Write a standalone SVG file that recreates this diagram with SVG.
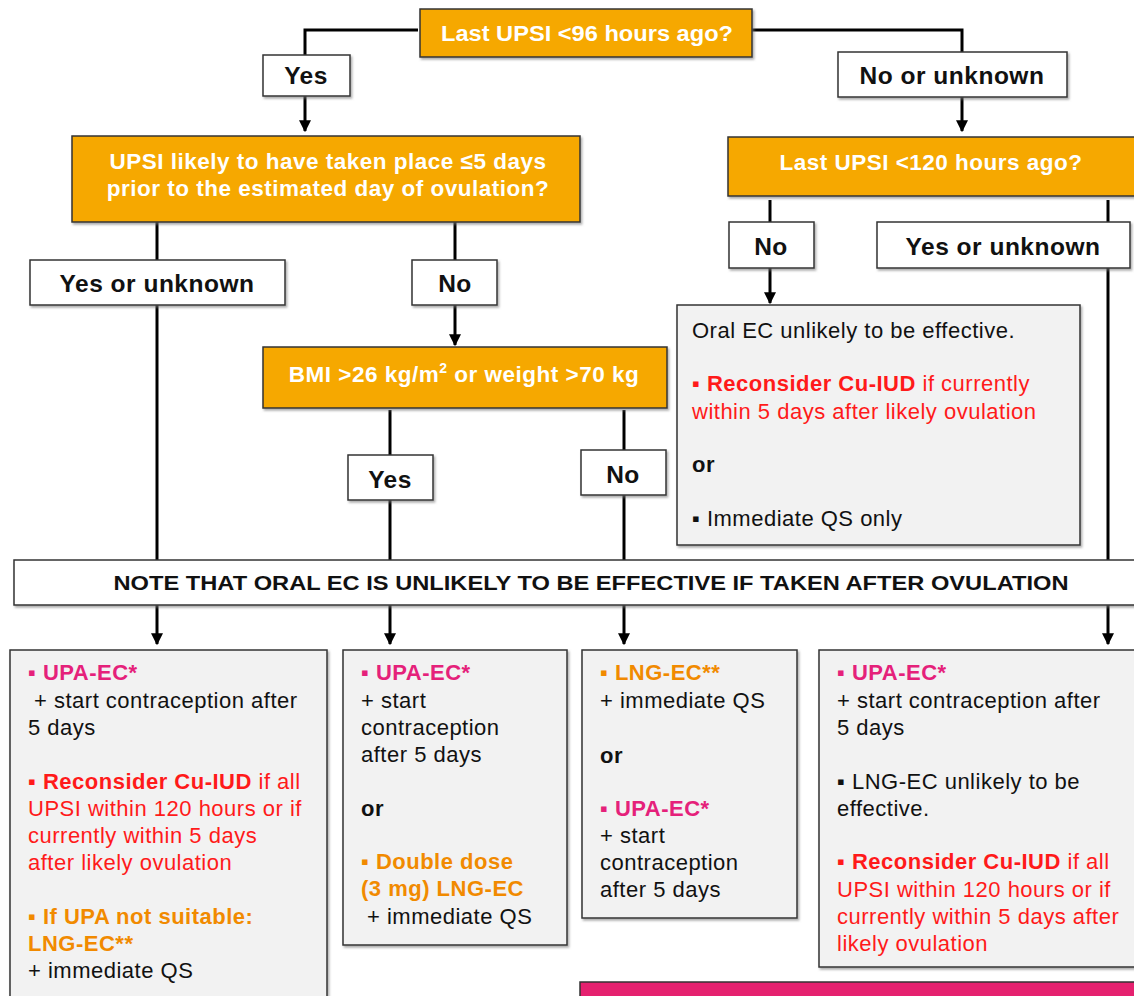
<svg xmlns="http://www.w3.org/2000/svg" width="1134" height="996" viewBox="0 0 1134 996">
<defs>
<marker id="arr" viewBox="0 0 10 10" refX="9" refY="5" markerWidth="4" markerHeight="4" orient="auto" markerUnits="strokeWidth">
<path d="M0,0 L10,5 L0,10 z" fill="#000"/>
</marker>
<filter id="sh" x="-5%" y="-5%" width="110%" height="115%">
<feDropShadow dx="1.5" dy="2" stdDeviation="1" flood-color="#777" flood-opacity="0.6"/>
</filter>
</defs>
<style>
text{font-family:"Liberation Sans",Arial,sans-serif;}
.q{fill:#f6a800;stroke:#333;stroke-width:1.5;filter:url(#sh);}
.lab{fill:#fff;stroke:#333;stroke-width:1.5;filter:url(#sh);}
.res{fill:#f2f2f2;stroke:#333;stroke-width:1.5;filter:url(#sh);}
.qt{fill:#fff;font-weight:bold;font-size:22.5px;letter-spacing:0.5px;text-anchor:middle;}
.lt{fill:#111;font-weight:bold;font-size:24.5px;letter-spacing:0.5px;text-anchor:middle;}
.b{font-size:22px;letter-spacing:0.5px;fill:#111;}
.bold{font-weight:bold;}
.pk{fill:#e5217a;font-weight:bold;}
.rd{fill:#ff1a1a;}
.or{fill:#f18a00;font-weight:bold;}
.con{fill:none;stroke:#000;stroke-width:3;}
</style>

<g id="connectors">
<path class="con" d="M418 30 H305 V55"/>
<path class="con" d="M305 96 V131" marker-end="url(#arr)"/>
<path class="con" d="M752 30 H962 V52"/>
<path class="con" d="M962 97 V131" marker-end="url(#arr)"/>
<path class="con" d="M157 222 V260"/>
<path class="con" d="M157 305 V560"/>
<path class="con" d="M455 222 V260"/>
<path class="con" d="M455 305 V345" marker-end="url(#arr)"/>
<path class="con" d="M390 410 V455"/>
<path class="con" d="M390 500 V560"/>
<path class="con" d="M624 410 V450"/>
<path class="con" d="M624 495 V560"/>
<path class="con" d="M770 200 V222"/>
<path class="con" d="M770 268 V303" marker-end="url(#arr)"/>
<path class="con" d="M1108 200 V222"/>
<path class="con" d="M1108 268 V560"/>
<path class="con" d="M157 605 V644" marker-end="url(#arr)"/>
<path class="con" d="M390 605 V644" marker-end="url(#arr)"/>
<path class="con" d="M624 605 V644" marker-end="url(#arr)"/>
<path class="con" d="M1108 605 V644" marker-end="url(#arr)"/>
</g>

<g id="q1">
<rect class="q" x="420" y="9" width="332" height="48"/>
<text x="587" y="41" fill="#fff" font-weight="bold" font-size="22" text-anchor="middle" textLength="292" lengthAdjust="spacingAndGlyphs">Last UPSI &lt;96 hours ago?</text>
</g>
<g id="yes1">
<rect class="lab" x="263" y="55" width="87" height="41"/>
<text class="lt" x="306" y="84">Yes</text>
</g>
<g id="nounk1">
<rect class="lab" x="838" y="52" width="229" height="45"/>
<text class="lt" x="952" y="84">No or unknown</text>
</g>

<g id="q2">
<rect class="q" x="72" y="136" width="508" height="86"/>
<text class="qt" x="328" y="169">UPSI likely to have taken place ≤5 days</text>
<text class="qt" x="328" y="196">prior to the estimated day of ovulation?</text>
</g>
<g id="q3">
<rect class="q" x="728" y="137" width="410" height="59"/>
<text class="qt" x="931" y="170" font-size="23.5">Last UPSI &lt;120 hours ago?</text>
</g>

<g id="yesunk2">
<rect class="lab" x="30" y="260" width="255" height="45"/>
<text class="lt" x="157" y="292">Yes or unknown</text>
</g>
<g id="no2">
<rect class="lab" x="412" y="260" width="85" height="45"/>
<text class="lt" x="455" y="292">No</text>
</g>
<g id="no3">
<rect class="lab" x="729" y="222" width="85" height="46"/>
<text class="lt" x="771" y="255">No</text>
</g>
<g id="yesunk3">
<rect class="lab" x="877" y="222" width="253" height="46"/>
<text class="lt" x="1003" y="255">Yes or unknown</text>
</g>

<g id="bmi">
<rect class="q" x="263" y="347" width="404" height="61"/>
<text class="qt" x="464" y="382">BMI &gt;26 kg/m<tspan font-size="14" dy="-9">2</tspan><tspan dy="9"> or weight &gt;70 kg</tspan></text>
</g>
<g id="yes4">
<rect class="lab" x="348" y="455" width="85" height="45"/>
<text class="lt" x="390" y="488">Yes</text>
</g>
<g id="no4">
<rect class="lab" x="581" y="450" width="85" height="45"/>
<text class="lt" x="623" y="483">No</text>
</g>

<g id="oralec">
<rect class="res" x="677" y="305" width="403" height="240"/>
<text class="b" x="692" y="338">Oral EC unlikely to be effective.</text>
<text class="b rd" x="692" y="391"><tspan class="bold">▪ Reconsider Cu-IUD</tspan> if currently</text>
<text class="b rd" x="692" y="419">within 5 days after likely ovulation</text>
<text class="b bold" x="692" y="472">or</text>
<text class="b" x="692" y="526">▪ Immediate QS only</text>
</g>

<g id="note">
<rect class="lab" x="14" y="560" width="1130" height="45"/>
<text x="591" y="590" font-size="21" font-weight="bold" fill="#111" text-anchor="middle" textLength="955" lengthAdjust="spacingAndGlyphs">NOTE THAT ORAL EC IS UNLIKELY TO BE EFFECTIVE IF TAKEN AFTER OVULATION</text>
</g>

<g id="resA">
<rect class="res" x="10" y="650" width="317" height="360"/>
<text class="b pk" x="28" y="680">▪ UPA-EC*</text>
<text class="b" x="34" y="708">+ start contraception after</text>
<text class="b" x="28" y="735">5 days</text>
<text class="b rd" x="28" y="789"><tspan class="bold">▪ Reconsider Cu-IUD</tspan> if all</text>
<text class="b rd" x="28" y="816">UPSI within 120 hours or if</text>
<text class="b rd" x="28" y="843">currently within 5 days</text>
<text class="b rd" x="28" y="870">after likely ovulation</text>
<text class="b or" x="28" y="924">▪ If UPA not suitable:</text>
<text class="b or" x="28" y="951">LNG-EC**</text>
<text class="b" x="28" y="978">+ immediate QS</text>
</g>

<g id="resB">
<rect class="res" x="343" y="650" width="224" height="295"/>
<text class="b pk" x="361" y="680">▪ UPA-EC*</text>
<text class="b" x="361" y="708">+ start</text>
<text class="b" x="361" y="735">contraception</text>
<text class="b" x="361" y="762">after 5 days</text>
<text class="b bold" x="361" y="816">or</text>
<text class="b or" x="361" y="869">▪ Double dose</text>
<text class="b or" x="361" y="896">(3 mg) LNG-EC</text>
<text class="b" x="367" y="924">+ immediate QS</text>
</g>

<g id="resC">
<rect class="res" x="582" y="650" width="215" height="268"/>
<text class="b or" x="600" y="680">▪ LNG-EC**</text>
<text class="b" x="600" y="708">+ immediate QS</text>
<text class="b bold" x="600" y="763">or</text>
<text class="b pk" x="600" y="816">▪ UPA-EC*</text>
<text class="b" x="600" y="843">+ start</text>
<text class="b" x="600" y="870">contraception</text>
<text class="b" x="600" y="897">after 5 days</text>
</g>

<g id="resD">
<rect class="res" x="819" y="650" width="330" height="317"/>
<text class="b pk" x="837" y="680">▪ UPA-EC*</text>
<text class="b" x="837" y="708">+ start contraception after</text>
<text class="b" x="837" y="735">5 days</text>
<text class="b" x="837" y="789">▪ LNG-EC unlikely to be</text>
<text class="b" x="837" y="816">effective.</text>
<text class="b rd" x="837" y="869"><tspan class="bold">▪ Reconsider Cu-IUD</tspan> if all</text>
<text class="b rd" x="837" y="897">UPSI within 120 hours or if</text>
<text class="b rd" x="837" y="924">currently within 5 days after</text>
<text class="b rd" x="837" y="951">likely ovulation</text>
</g>

<g id="pinkbar">
<rect x="580" y="982" width="570" height="30" fill="#e5216f" stroke="#333" stroke-width="1.5"/>
</g>
</svg>
